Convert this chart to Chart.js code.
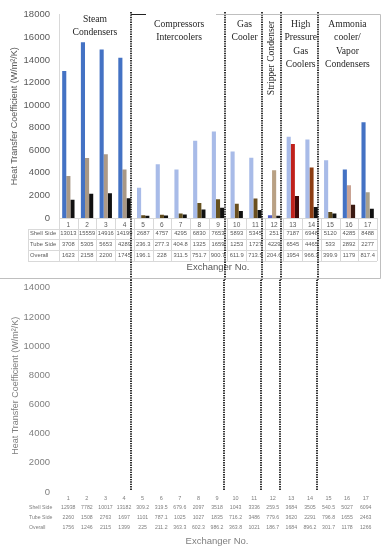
<!DOCTYPE html>
<html>
<head>
<meta charset="utf-8">
<script src="https://cdn.jsdelivr.net/npm/chart.js@4.4.0/dist/chart.umd.min.js"></script>
<style>
  html, body { margin: 0; padding: 0; background: #fff; }
  #wrap { position: relative; width: 386px; height: 550px; overflow: hidden; }
  #top { position: absolute; left: 0; top: 0; }
  #bottom { position: absolute; left: 0; top: 265px; }
</style>
</head>
<body>
<div id="wrap">
  <canvas id="top" width="386" height="280"></canvas>
  <canvas id="bottom" width="386" height="285"></canvas>
</div>
<script>
var exchangers = ['1','2','3','4','5','6','7','8','9','10','11','12','13','14','15','16','17'];
var yTicksTop = [0, 2000, 4000, 6000, 8000, 10000, 12000, 14000, 16000, 18000];
var yTicksBottom = [0, 2000, 4000, 6000, 8000, 10000, 12000, 14000];

// upper chart
var shellTop = [13013, 15559, 14916, 14199, 2687, 4757, 4295, 6830, 7653, 5893, 5345, 251, 7187, 6948, 5120, 4285, 8488];
var tubeTop = [3708, 5305, 5653, 4289, 236.3, 277.3, 404.8, 1325, 1659, 1253, 1727, 4229, 6545, 4465, 533, 2892, 2277];
var overallTop = [1623, 2158, 2200, 1745, 196.1, 228, 311.5, 751.7, 900.7, 611.9, 713.5, 204.6, 1954, 966.3, 399.9, 1179, 817.4];

// lower chart (only the data table is visible in the picture)
var shellBottom = [12938, 7782, 10017, 13182, 309.2, 319.5, 679.6, 2097, 3518, 1043, 3336, 259.5, 3684, 3505, 540.5, 5027, 6094];
var tubeBottom = [2260, 1508, 2763, 1697, 1101, 787.1, 1025, 1027, 1835, 716.2, 3486, 779.6, 3620, 2291, 796.8, 1655, 2463];
var overallBottom = [1756, 1246, 2115, 1399, 225, 211.2, 363.3, 602.3, 986.2, 363.8, 1021, 186.7, 1684, 896.2, 301.7, 1178, 1266];

// exchanger groups (first / last category index)
var groupNames = [['Steam', 'Condensers'], ['Compressors', 'Intercoolers'], ['Gas', 'Cooler'], ['Stripper Condenser'], ['High', 'Pressure', 'Gas', 'Coolers'], ['Ammonia', 'cooler/', 'Vapor', 'Condensers']];
var groupFirst = [0, 4, 9, 11, 12, 14];
var groupLast = [3, 8, 10, 11, 13, 16];

var BLUE = '#4472c4', LIGHT = '#a8bbe8';
var shellColors = [BLUE, BLUE, BLUE, BLUE, LIGHT, LIGHT, LIGHT, LIGHT, LIGHT, LIGHT, LIGHT, '#5560c4', LIGHT, LIGHT, LIGHT, BLUE, BLUE];
var tubeColors = ['#a99885', '#a99885', '#ad9a88', '#a99885', '#5f4b1e', '#5f4b1e', '#62501f', '#67521f', '#67521f', '#6a4f1f', '#6a4f1f', '#b9a184', '#c0211b', '#8c3d12', '#5f4b1e', '#c9a394', '#a8a08c'];
var overallColors = ['#111', '#111', '#111', '#111', '#111', '#111', '#111', '#111', '#111', '#111', '#111', '#111', '#3d0808', '#111', '#111', '#3b1a12', '#111'];

var FONT = '"Liberation Sans", Arial, sans-serif';
var SERIF = '"Liberation Serif", "Times New Roman", serif';

function midBetween(scale, i) {
  return (scale.getPixelForValue(i) + scale.getPixelForValue(i + 1)) / 2;
}

var dataTable = {
  id: 'dataTable',
  afterDraw: function (chart, args, o) {
    var ctx = chart.ctx, x = chart.scales.x, a = chart.chartArea;
    var half = (x.getPixelForValue(1) - x.getPixelForValue(0)) / 2;
    ctx.save();
    if (o.grid) {
      ctx.strokeStyle = '#d9d9d9';
      ctx.lineWidth = 1;
      ctx.beginPath();
      o.lines.forEach(function (dy) {
        ctx.moveTo(o.labelX - 2, Math.round(a.bottom + dy) + 0.5);
        ctx.lineTo(a.right, Math.round(a.bottom + dy) + 0.5);
      });
      for (var i = 0; i <= exchangers.length; i++) {
        var px = Math.round(x.getPixelForValue(i) - half) + 0.5;
        ctx.moveTo(px, a.bottom);
        ctx.lineTo(px, a.bottom + o.lines[o.lines.length - 1]);
      }
      ctx.moveTo(o.labelX - 2 + 0.5, a.bottom + o.lines[0]);
      ctx.lineTo(o.labelX - 2 + 0.5, a.bottom + o.lines[o.lines.length - 1]);
      ctx.stroke();
    }
    ctx.fillStyle = o.color;
    ctx.textBaseline = 'middle';
    ctx.font = o.size + 'px ' + FONT;
    chart.data.datasets.forEach(function (ds, r) {
      var y = a.bottom + o.rows[r];
      ctx.textAlign = 'left';
      ctx.fillText(ds.label, o.labelX, y);
      ctx.textAlign = 'center';
      ds.data.forEach(function (v, i) {
        ctx.fillText(String(v), x.getPixelForValue(i), y);
      });
    });
    ctx.restore();
  }
};

var separators = {
  id: 'separators',
  afterDraw: function (chart, args, o) {
    var ctx = chart.ctx, x = chart.scales.x, a = chart.chartArea;
    var y0 = o.fromTop != null ? o.fromTop : a.top;
    var y1 = o.toBottom != null ? o.toBottom : a.bottom - 2;
    ctx.save();
    ctx.strokeStyle = '#000';
    ctx.lineWidth = 1.6;
    ctx.setLineDash([1.4, 1]);
    for (var g = 0; g < groupLast.length - 1; g++) {
      var px = Math.round(midBetween(x, groupLast[g]) - 2.5);
      ctx.beginPath();
      ctx.moveTo(px, y0);
      ctx.lineTo(px, y1);
      ctx.stroke();
    }
    ctx.restore();
  }
};

var groupLabels = {
  id: 'groupLabels',
  afterDraw: function (chart) {
    var ctx = chart.ctx, x = chart.scales.x;
    ctx.save();
    ctx.fillStyle = '#262626';
    ctx.font = '9.6px ' + SERIF;
    ctx.textAlign = 'center';
    ctx.textBaseline = 'middle';
    groupNames.forEach(function (lines, g) {
      var cx = (x.getPixelForValue(groupFirst[g]) + x.getPixelForValue(groupLast[g])) / 2 - 1.5;
      if (lines.length === 1) {
        ctx.save();
        ctx.translate(cx - 1, 58);
        ctx.rotate(-Math.PI / 2);
        ctx.fillText(lines[0], 0, 0);
        ctx.restore();
        return;
      }
      var y0 = g === 0 ? 19 : 24;
      lines.forEach(function (t, k) {
        ctx.fillText(t, cx, y0 + k * 13.5);
      });
    });
    // frame
    ctx.lineWidth = 1;
    ctx.strokeStyle = '#bfbfbf';
    ctx.beginPath();
    ctx.moveTo(0, 278.5); ctx.lineTo(380.5, 278.5);
    ctx.lineTo(380.5, 14.5); ctx.lineTo(216, 14.5);
    ctx.stroke();
    ctx.strokeStyle = '#222';
    ctx.beginPath();
    ctx.moveTo(131, 14.5); ctx.lineTo(146, 14.5);
    ctx.stroke();
    ctx.restore();
  }
};

function fixedTicks(list) {
  return function (s) { s.ticks = list.map(function (v) { return { value: v }; }); };
}

new Chart(document.getElementById('top'), {
  type: 'bar',
  data: {
    labels: exchangers,
    datasets: [
      { label: 'Shell Side', data: shellTop, backgroundColor: shellColors },
      { label: 'Tube Side', data: tubeTop, backgroundColor: tubeColors },
      { label: 'Overall', data: overallTop, backgroundColor: overallColors }
    ]
  },
  options: {
    responsive: false,
    animation: false,
    layout: { padding: { top: 14, right: 9, left: 0, bottom: 0 } },
    datasets: { bar: { categoryPercentage: 0.66, barPercentage: 1 } },
    plugins: {
      legend: { display: false },
      tooltip: { enabled: false },
      dataTable: { grid: true, size: 5.8, color: '#595959', labelX: 30, rows: [15.5, 26.5, 37.5], lines: [11, 21, 32, 43] },
      separators: { fromTop: 12, toBottom: 280 }
    },
    scales: {
      x: {
        grid: { display: false, drawTicks: false },
        border: { color: '#d9d9d9' },
        ticks: { font: { size: 6.5, family: FONT }, color: '#595959', padding: 3, maxRotation: 0, autoSkip: false },
        title: { display: true, text: 'Exchanger No.', font: { size: 9.5, family: FONT }, color: '#595959', padding: { top: 0, bottom: 7 } },
        afterFit: function (s) { s.height = 62; }
      },
      y: {
        min: 0, max: 18000, bounds: 'data',
        afterBuildTicks: fixedTicks(yTicksTop),
        ticks: { autoSkip: false, font: { size: 9.5, family: FONT }, color: '#595959', padding: 9, callback: function (v) { return String(v); } },
        grid: { display: false, drawTicks: false },
        border: { color: '#d9d9d9' },
        title: { display: true, text: 'Heat Transfer Coefficient (W/m²/K)', font: { size: 9, family: FONT }, color: '#595959', padding: { top: 9, bottom: 0 } },
        afterFit: function (s) { s.width = 59; }
      }
    }
  },
  plugins: [dataTable, separators, groupLabels]
});

var bottomCanvas = document.getElementById('bottom');
var bottomChart = new Chart(bottomCanvas, {
  type: 'bar',
  data: {
    labels: exchangers,
    datasets: [
      { label: 'Shell Side', data: shellBottom, backgroundColor: BLUE, hidden: true },
      { label: 'Tube Side', data: tubeBottom, backgroundColor: '#a99885', hidden: true },
      { label: 'Overall', data: overallBottom, backgroundColor: '#111', hidden: true }
    ]
  },
  options: {
    responsive: false,
    maintainAspectRatio: false,
    animation: false,
    layout: { padding: { top: 0, right: 11, left: 0, bottom: 0 } },
    plugins: {
      legend: { display: false },
      tooltip: { enabled: false },
      dataTable: { grid: false, size: 5.2, color: '#7f7f7f', labelX: 29, rows: [16, 26, 36], lines: [] },
      separators: {}
    },
    scales: {
      x: {
        grid: { display: false, drawTicks: false },
        border: { display: false },
        ticks: { font: { size: 5.5, family: FONT }, color: '#7f7f7f', padding: 3, maxRotation: 0, autoSkip: false },
        title: { display: true, text: 'Exchanger No.', font: { size: 9.5, family: FONT }, color: '#7f7f7f', padding: { top: 0, bottom: 2.5 } },
        afterFit: function (s) { s.height = 58; }
      },
      y: {
        min: 0, max: 14550, bounds: 'data',
        afterBuildTicks: fixedTicks(yTicksBottom),
        ticks: { autoSkip: false, font: { size: 9.5, family: FONT }, color: '#7f7f7f', padding: 9, callback: function (v) { return String(v); } },
        grid: { display: false, drawTicks: false },
        border: { display: false },
        title: { display: true, text: 'Heat Transfer Coefficient (W/m²/K)', font: { size: 9, family: FONT }, color: '#7f7f7f', padding: { top: 10, bottom: 0 } },
        afterFit: function (s) { s.width = 59; }
      }
    }
  },
  plugins: [dataTable, separators]
});

// put the lower plot's zero line at y = 492 on the page, then lay it out again
bottomCanvas.style.top = Math.round(492 - bottomChart.chartArea.bottom) + 'px';
bottomChart.update();
</script>
</body>
</html>
